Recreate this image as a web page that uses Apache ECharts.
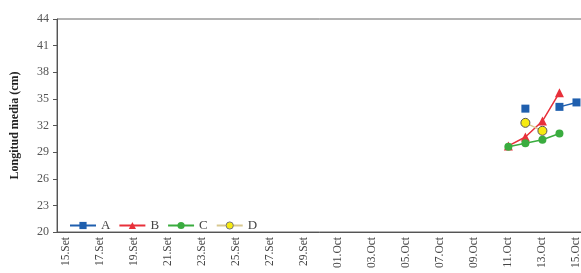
<!DOCTYPE html>
<html>
<head>
<meta charset="utf-8">
<script src="https://cdn.jsdelivr.net/npm/echarts@6/dist/echarts.min.js"></script>
<style>
  html, body { margin: 0; padding: 0; background: #fff; }
  #chart { width: 581px; height: 273px; }
</style>
</head>
<body>
<div id="chart"></div>
<script>
// days from 15.Set to 15.Oct
const days = [
  "15.Set", "16.Set", "17.Set", "18.Set", "19.Set", "20.Set", "21.Set", "22.Set",
  "23.Set", "24.Set", "25.Set", "26.Set", "27.Set", "28.Set", "29.Set", "30.Set",
  "01.Oct", "02.Oct", "03.Oct", "04.Oct", "05.Oct", "06.Oct", "07.Oct", "08.Oct",
  "09.Oct", "10.Oct", "11.Oct", "12.Oct", "13.Oct", "14.Oct", "15.Oct"
];

// measured points: [day label, value]
const seriesA = [["12.Oct", 33.9], ["13.Oct", null], ["14.Oct", 34.1], ["15.Oct", 34.6]];
const seriesB = [["11.Oct", 29.7], ["12.Oct", 30.7], ["13.Oct", 32.5], ["14.Oct", 35.7]];
const seriesC = [["11.Oct", 29.6], ["12.Oct", 30.0], ["13.Oct", 30.4], ["14.Oct", 31.1]];
const seriesD = [["12.Oct", 32.3], ["13.Oct", 31.4]];

const yTicks = { min: 20, max: 44, interval: 3 };

const serif = "'Liberation Serif', 'DejaVu Serif', serif";

const chart = echarts.init(document.getElementById('chart'));

function mk(name, data, color, symbol, size, extra) {
  return Object.assign({
    name: name,
    type: 'line',
    data: data,
    symbol: symbol,
    symbolSize: size,
    connectNulls: false,
    lineStyle: { color: color, width: 1.5 },
    itemStyle: { color: color }
  }, extra || {});
}

const option = {
  animation: false,
  grid: {
    left: 57, top: 19, width: 528, bottom: 41,
    outerBoundsMode: 'none',
    show: true, borderColor: '#666', borderWidth: 1
  },
  legend: {
    left: 64, top: 214,
    itemWidth: 26, itemHeight: 9, itemGap: 8,
    textStyle: { fontFamily: serif, fontSize: 13, color: '#444' },
    data: ['A', 'B', 'C', {
      name: 'D',
      itemStyle: { color: '#f6ea10', borderColor: '#777', borderWidth: 1 }
    }]
  },
  xAxis: {
    type: 'category',
    data: days,
    boundaryGap: true,
    axisLine: { lineStyle: { color: '#555' } },
    axisTick: { alignWithLabel: true, interval: 0, length: 3, lineStyle: { color: '#555' } },
    axisLabel: {
      interval: 1, rotate: 90, margin: 5,
      fontFamily: serif, fontSize: 11.5, color: '#444'
    }
  },
  yAxis: {
    type: 'value',
    min: yTicks.min, max: yTicks.max, interval: yTicks.interval,
    name: 'Longitud media (cm)',
    nameLocation: 'middle',
    nameGap: 36,
    nameTextStyle: { fontFamily: serif, fontSize: 12, fontWeight: 'bold', color: '#222' },
    splitLine: { show: false },
    axisLine: { show: true, lineStyle: { color: '#555' } },
    axisTick: { show: true, length: 4, lineStyle: { color: '#555' } },
    axisLabel: { fontFamily: serif, fontSize: 12, color: '#555', margin: 8 }
  },
  series: [
    mk('A', seriesA, '#1f5fae', 'rect', 8),
    mk('B', seriesB, '#e8303a', 'triangle', 9),
    mk('C', seriesC, '#3aac3f', 'circle', 8),
    mk('D', seriesD, '#d8c890', 'circle', 9, {
      itemStyle: { color: '#f6ea10', borderColor: '#555', borderWidth: 1 }
    })
  ]
};

chart.setOption(option);
</script>
</body>
</html>
